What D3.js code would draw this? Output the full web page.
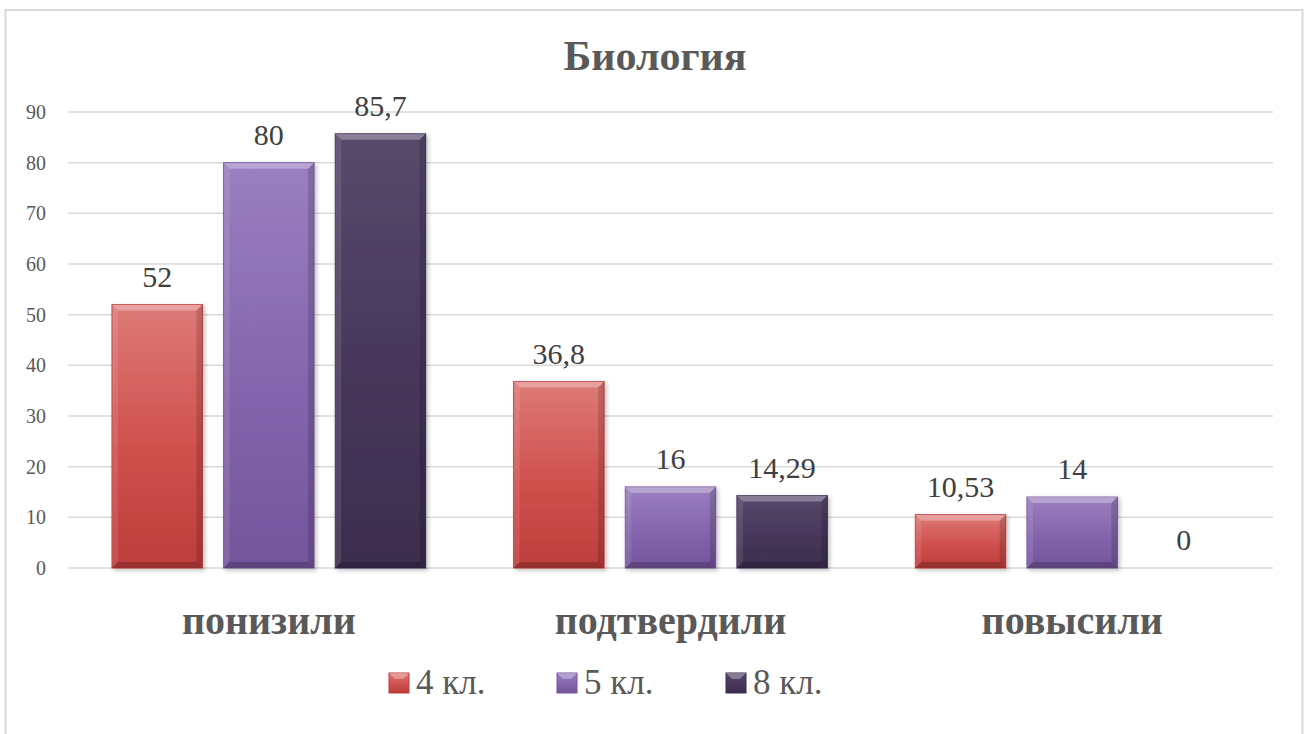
<!DOCTYPE html>
<html>
<head>
<meta charset="utf-8">
<script src="https://cdnjs.cloudflare.com/ajax/libs/d3/7.8.5/d3.min.js"></script>
<style>
    body { margin: 0; background: #fff; }
</style>
</head>
<body>
<div id="chart"></div>
<script>
// chart data
const categories = ["понизили", "подтвердили", "повысили"];
const seriesNames = ["4 кл.", "5 кл.", "8 кл."];
const values4 = [52, 36.8, 10.53];
const values5 = [80, 16, 14];
const values8 = [85.7, 14.29, 0];
const valueLabels4 = ["52", "36,8", "10,53"];
const valueLabels5 = ["80", "16", "14"];
const valueLabels8 = ["85,7", "14,29", "0"];
const yTicks = [0, 10, 20, 30, 40, 50, 60, 70, 80, 90];

const FONT = "'Liberation Serif', Tinos, 'DejaVu Serif', 'Times New Roman', serif";

// colours per series: [light top, main, dark bottom]
const palette = [
    ["#dd7a77", "#cf504d", "#bd3d3b"],
    ["#9a7fc0", "#8465ad", "#74559c"],
    ["#574a6c", "#47375b", "#3b2d4e"]
];

const W = 1315, H = 734;
const margin = {top: 112, right: 42, bottom: 166, left: 68};

const svg = d3.select("#chart").append("svg")
    .attr("width", W)
    .attr("height", H);

// outer frame
svg.append("rect")
    .attr("x", 5.5).attr("y", 10)
    .attr("width", 1297).attr("height", 740)
    .attr("fill", "#fff")
    .attr("stroke", "#d9d9d9")
    .attr("stroke-width", 2);

const defs = svg.append("defs");
palette.forEach((c, i) => {
    let g = defs.append("linearGradient")
        .attr("id", "grad" + i)
        .attr("x1", 0).attr("y1", 0).attr("x2", 0).attr("y2", 1);
    g.append("stop").attr("offset", "0%").attr("stop-color", c[0]);
    g.append("stop").attr("offset", "55%").attr("stop-color", c[1]);
    g.append("stop").attr("offset", "100%").attr("stop-color", c[2]);
});
let shadow = defs.append("filter").attr("id", "shadow")
    .attr("x", "-10%").attr("y", "-10%").attr("width", "130%").attr("height", "130%");
shadow.append("feDropShadow")
    .attr("dx", 2).attr("dy", 2).attr("stdDeviation", 2)
    .attr("flood-color", "#000").attr("flood-opacity", 0.25);

// scales
const y = d3.scaleLinear().domain([0, 90]).range([H - margin.bottom, margin.top]);
const x0 = d3.scaleBand().domain(categories).range([margin.left, W - margin.right]).padding(0);
const gap = 44;
const x1 = d3.scaleBand().domain(seriesNames).range([gap, x0.bandwidth() - gap]).paddingInner(0.19).paddingOuter(0);

// grid lines
svg.append("g").selectAll("line")
    .data(yTicks)
    .enter().append("line")
    .attr("x1", margin.left).attr("x2", W - margin.right)
    .attr("y1", d => y(d)).attr("y2", d => y(d))
    .attr("stroke", "#d9d9d9")
    .attr("stroke-width", 1.5);

// y axis labels
const yAxis = d3.axisLeft(y).tickValues(yTicks).tickSize(0).tickPadding(0);
svg.append("g")
    .attr("transform", `translate(${margin.left - 22},0)`)
    .call(yAxis)
    .call(g => g.select(".domain").remove())
    .selectAll("text")
    .style("font-size", "20px")
    .style("font-family", FONT)
    .style("fill", "#595959");

// build rows for bars
const rows = [];
categories.forEach((cat, ci) => {
    [values4, values5, values8].forEach((vals, si) => {
        rows.push({
            cat: cat,
            series: seriesNames[si],
            si: si,
            value: vals[ci],
            label: [valueLabels4, valueLabels5, valueLabels8][si][ci]
        });
    });
});

const bars = svg.append("g").selectAll("g.bar")
    .data(rows)
    .enter().append("g")
    .attr("class", "bar")
    .attr("transform", d => `translate(${x0(d.cat) + x1(d.series)},0)`);

// bar body with bevel
const bw = x1.bandwidth();
const bev = 6;
bars.filter(d => d.value > 0).each(function(d) {
    let g = d3.select(this);
    let top = y(d.value), bot = y(0), h = bot - top;
    let b = Math.min(bev, h / 3);
    g.append("rect")
        .attr("x", 0).attr("y", top)
        .attr("width", bw).attr("height", h)
        .attr("fill", `url(#grad${d.si})`)
        .attr("stroke", palette[d.si][2])
        .attr("stroke-width", 1)
        .attr("filter", "url(#shadow)");
    // top bevel (highlight)
    g.append("polygon")
        .attr("points", `0,${top} ${bw},${top} ${bw - b},${top + b} ${b},${top + b}`)
        .attr("fill", "#fff").attr("opacity", 0.3);
    // left bevel
    g.append("polygon")
        .attr("points", `0,${top} ${b},${top + b} ${b},${bot - b} 0,${bot}`)
        .attr("fill", "#fff").attr("opacity", 0.1);
    // right bevel (shade)
    g.append("polygon")
        .attr("points", `${bw},${top} ${bw},${bot} ${bw - b},${bot - b} ${bw - b},${top + b}`)
        .attr("fill", "#000").attr("opacity", 0.15);
    // bottom bevel
    g.append("polygon")
        .attr("points", `0,${bot} ${bw},${bot} ${bw - b},${bot - b} ${b},${bot - b}`)
        .attr("fill", "#000").attr("opacity", 0.2);
});

// value labels
bars.append("text")
    .attr("x", bw / 2)
    .attr("y", d => y(d.value) - 18)
    .attr("text-anchor", "middle")
    .style("font-family", FONT)
    .style("font-size", "30px")
    .style("fill", "#404040")
    .text(d => d.label);

// category labels
svg.append("g").selectAll("text")
    .data(categories)
    .enter().append("text")
    .attr("x", d => x0(d) + x0.bandwidth() / 2)
    .attr("y", 634)
    .attr("text-anchor", "middle")
    .style("font-family", FONT)
    .style("font-size", "40px")
    .style("font-weight", "bold")
    .style("fill", "#595959")
    .text(d => d);

// title
svg.append("text")
    .attr("x", 655)
    .attr("y", 70)
    .attr("text-anchor", "middle")
    .style("font-family", FONT)
    .style("font-size", "42px")
    .style("font-weight", "bold")
    .style("fill", "#595959")
    .text("Биология");

// legend
const legendX = [389, 557, 726];
const legend = svg.append("g").selectAll("g")
    .data(seriesNames)
    .enter().append("g")
    .attr("transform", (d, i) => `translate(${legendX[i]}, 673)`);

legend.append("rect")
    .attr("width", 20).attr("height", 20)
    .attr("fill", (d, i) => `url(#grad${i})`)
    .attr("stroke", (d, i) => palette[i][2]);
legend.append("polygon")
    .attr("points", "0,0 20,0 14,6 6,6")
    .attr("fill", "#fff").attr("opacity", 0.3);

legend.append("text")
    .attr("x", 27)
    .attr("y", 21)
    .style("font-family", FONT)
    .style("font-size", "35px")
    .style("fill", "#595959")
    .text(d => d);
</script>
</body>
</html>
